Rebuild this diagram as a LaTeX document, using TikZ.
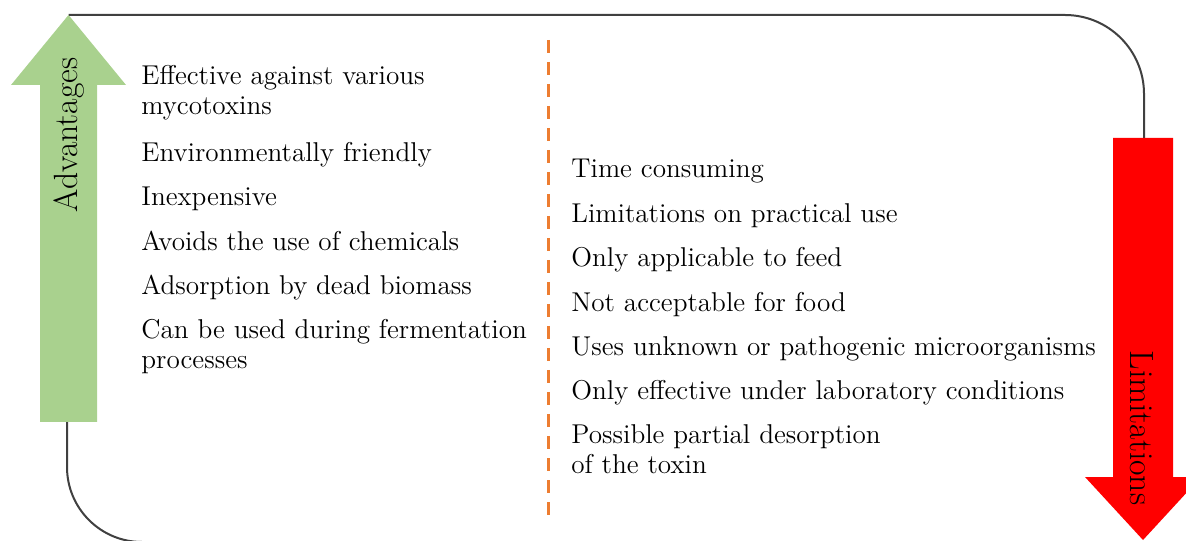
\documentclass[tikz,border=0pt]{standalone}
\usepackage{xcolor}
\usepackage{tikz}
\usetikzlibrary{calc}

\definecolor{advgreen}{HTML}{A9D18E}
\definecolor{limred}{HTML}{FF0000}
\definecolor{dashorange}{HTML}{ED7D31}
\definecolor{framegray}{HTML}{404040}

\tikzset{
    item/.style={anchor=north west, inner sep=0pt, align=left, font=\fontsize{13.6}{15}\selectfont},
    sidelabel/.style={inner sep=0pt, font=\fontsize{16.8}{20}\selectfont},
    frameline/.style={draw=framegray, line width=1pt},
    divider/.style={draw=dashorange, line width=1.5pt, dash pattern=on 6.5pt off 4.5pt}
}

\begin{document}
\begin{tikzpicture}[x=0.5pt, y=0.5pt]
    \useasboundingbox (0,0) rectangle (1186,540);
    \clip (0,0) rectangle (1186,540);
    % Rounded frame
    \draw[frameline] (68.5,525) -- (1065,525) arc[start angle=90, end angle=0, radius=79] -- (1144,402);
    \draw[frameline] (67,118) -- (67,73) arc[start angle=180, end angle=270, radius=75] -- (1143,-2);
    % Advantages arrow
    \fill[advgreen] (40,118) -- (40,455) -- (11,455) -- (68.5,525) -- (126,455) -- (97,455) -- (97,118) -- cycle;
    \node[sidelabel, rotate=90] (adv) at (69,405) {Advantages};
    % Limitations arrow
    \fill[limred] (1113,402) -- (1113,63) -- (1085,63) -- (1143,0) -- (1201,63) -- (1173,63) -- (1173,402) -- cycle;
    \node[sidelabel, rotate=-90] (lim) at (1142,112) {Limitations};
    % Divider
    \draw[divider] (548,500) -- (548,20);
    % Advantages list
    \node[item] (a1) at (141,475) {Effective against various\\mycotoxins};
    \foreach \txt [count=\i] in {Environmentally friendly, Inexpensive, Avoids the use of chemicals, Adsorption by dead biomass} {
        \node[item] (a\i b) at (141, 398-44.2*\i+44.2) {\txt};
    }
    \node[item] (a6) at (141,221) {Can be used during fermentation\\processes};
    % Limitations list
    \foreach \txt [count=\i] in {Time consuming, Limitations on practical use, Only applicable to feed, Not acceptable for food, Uses unknown or pathogenic microorganisms, Only effective under laboratory conditions} {
        \node[item] (l\i) at (571, 381-44.2*\i+44.2) {\txt};
    }
    \node[item] (l7) at (571,116) {Possible partial desorption\\of the toxin};
\end{tikzpicture}
\end{document}
